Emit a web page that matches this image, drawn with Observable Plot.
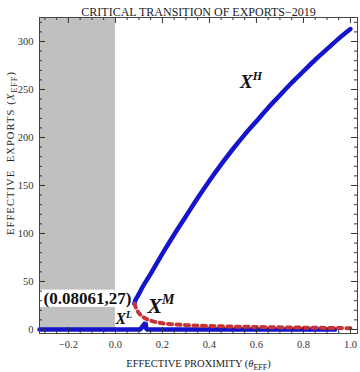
<!DOCTYPE html>
<html><head><meta charset="utf-8">
<script src="https://cdn.jsdelivr.net/npm/d3@7"></script>
<script src="https://cdn.jsdelivr.net/npm/@observablehq/plot@0.6"></script>
<style>
body{margin:0;background:#fff;}
svg{font-family:"Liberation Serif","Times New Roman",serif;}
</style>
</head><body><div id="chart"></div>
<script>
// ---- content ----
const titleText = "CRITICAL TRANSITION OF EXPORTS\u22122019";
const xLabelText = "EFFECTIVE PROXIMITY (θEFF)";
const yLabelText = "EFFECTIVE  EXPORTS (XEFF)";

const xMajorTicks = [-0.2, 0.0, 0.2, 0.4, 0.6, 0.8, 1.0];
const xMinorTicks = [-0.3, -0.25, -0.15, -0.1, -0.05, 0.05, 0.1, 0.15, 0.25, 0.3, 0.35, 0.45, 0.5, 0.55, 0.65, 0.7, 0.75, 0.85, 0.9, 0.95];
const yMajorTicks = [0, 50, 100, 150, 200, 250, 300];
const yMinorTicks = [10, 20, 30, 40, 60, 70, 80, 90, 110, 120, 130, 140, 160, 170, 180, 190, 210, 220, 230, 240, 260, 270, 280, 290, 310, 320];

// high branch X^H (stable)
const xH = [0.0806, 0.083, 0.087, 0.093, 0.1, 0.115, 0.15, 0.2, 0.25, 0.3, 0.35, 0.4, 0.45, 0.5, 0.55, 0.6, 0.65, 0.7, 0.75, 0.8, 0.85, 0.9, 0.95, 1.0];
const yH = [27, 29, 31.5, 34, 37, 44, 58, 79, 99, 118, 137, 155, 172, 188, 203, 217, 231, 244, 257, 269, 281, 292, 303, 313];
// middle branch X^M (unstable)
const xM = [0.0806, 0.09, 0.1, 0.11, 0.12, 0.14, 0.16, 0.2, 0.25, 0.3, 0.4, 0.5, 0.6, 0.7, 0.8, 0.9, 1.0];
const yM = [27, 21, 17, 14.5, 12.5, 10, 8.5, 6.5, 5.3, 4.5, 3.6, 3.0, 2.6, 2.2, 1.9, 1.6, 1.3];
// low branch X^L (stable)
const xL = [-0.323, 0.105, 0.128, 0.132, 0.935];
const yL = [0, 0, 7, 0, 0];

// shaded region and point label
const shadeX = [-0.323, 0.0];
const shadeY = [0, 325];
const labelBoxY = [23, 41];
const bifurcation = {x: 0.08061, y: 27, text: "(0.08061,27)"};
const branchLabels = [
  {key: "XH", x: 0.53, y: 258, size: 19},
  {key: "XL", x: 0.0, y: 11.5, size: 16},
  {key: "XM", x: 0.136, y: 25, size: 22}
];

// ---- build ----
const W = 360, H = 372, mt = 17, mb = 39, ml = 39, mr = 3;
const plotW = W - ml - mr, plotH = H - mt - mb;
const blue = "#1414cc", red = "#c83434", ink = "#333";

const H_ = xH.map((x, i) => ({x, y: yH[i]}));
const M_ = xM.map((x, i) => ({x, y: yM[i]}));
const L_ = xL.map((x, i) => ({x, y: yL[i]}));

const chart = Plot.plot({
  width: W, height: H,
  marginTop: mt, marginBottom: mb, marginLeft: ml, marginRight: mr,
  x: {domain: [-0.323, 1.03], axis: null},
  y: {domain: [-4.2, 325], axis: null},
  style: {fontFamily: "Liberation Serif, serif", fontSize: "10.5px", background: "white", color: ink},
  marks: [
    Plot.rect([{x1: shadeX[0], x2: shadeX[1], y1: shadeY[0], y2: shadeY[1]}], {x1: "x1", x2: "x2", y1: "y1", y2: "y2", fill: "#c0c0c0"}),
    Plot.rect([{x1: shadeX[0], x2: shadeX[1], y1: labelBoxY[0], y2: labelBoxY[1]}], {x1: "x1", x2: "x2", y1: "y1", y2: "y2", fill: "white"}),
    Plot.line(L_, {x: "x", y: "y", stroke: blue, strokeWidth: 4.5, strokeLinejoin: "miter"}),
    Plot.line(H_, {x: "x", y: "y", stroke: blue, strokeWidth: 4.5, curve: "monotone-x"}),
    Plot.line(M_, {x: "x", y: "y", stroke: red, strokeWidth: 4, strokeDasharray: "4,4.5", curve: "monotone-x"}),
    // ticks (inward, all four sides)
    Plot.tickX(xMajorTicks, {x: d => d, insetTop: plotH - 6, stroke: ink}),
    Plot.tickX(xMinorTicks, {x: d => d, insetTop: plotH - 3, stroke: ink}),
    Plot.tickX(xMajorTicks, {x: d => d, insetBottom: plotH - 6, stroke: ink}),
    Plot.tickX(xMinorTicks, {x: d => d, insetBottom: plotH - 3, stroke: ink}),
    Plot.tickY(yMajorTicks, {y: d => d, insetRight: plotW - 6, stroke: ink}),
    Plot.tickY(yMinorTicks, {y: d => d, insetRight: plotW - 3, stroke: ink}),
    Plot.tickY(yMajorTicks, {y: d => d, insetLeft: plotW - 6, stroke: ink}),
    Plot.tickY(yMinorTicks, {y: d => d, insetLeft: plotW - 3, stroke: ink}),
    Plot.frame({stroke: "#444"}),
    Plot.axisX(xMajorTicks, {anchor: "bottom", tickSize: 0, tickPadding: 7, tickFormat: d3.format(".1f"), fontSize: 10.5}),
    Plot.axisY(yMajorTicks, {anchor: "left", tickSize: 0, tickPadding: 6, tickFormat: d => String(d), fontSize: 10.5}),
    // titles
    Plot.text([titleText], {text: d => d, frameAnchor: "top", dy: -10, fontSize: 12, fill: "#222"}),
    Plot.text([xLabelText], {text: d => d, frameAnchor: "bottom", dy: 33, fontSize: 10.5, fill: "#222"}),
    // annotations
    Plot.text([bifurcation], {x: "x", y: "y", text: "text", textAnchor: "end", dx: -3, dy: -5, fontSize: 17, fontWeight: "bold", fill: "#111"}),
    Plot.text(branchLabels, {x: "x", y: "y", text: "key", textAnchor: "start", fontSize: "size", fontWeight: "bold", fill: "#111"})
  ]
});
document.getElementById("chart").appendChild(chart);

// rich text (italic, super/subscripts)
function rich(plain, html) {
  chart.querySelectorAll("text").forEach(t => { if (t.textContent === plain) t.innerHTML = html; });
}
rich(xLabelText, 'EFFECTIVE PROXIMITY (<tspan font-style="italic">θ</tspan><tspan dy="3" font-size="8">EFF</tspan><tspan dy="-3">)</tspan>');
const sup = {XH: "H", XL: "L", XM: "M"};
for (const b of branchLabels) {
  const s = Math.round(b.size * 0.62);
  rich(b.key, `<tspan font-style="italic">X</tspan><tspan font-style="italic" font-size="${s}" dy="${-Math.round(b.size * 0.4)}">${sup[b.key]}</tspan>`);
}
// rotated y-axis label
const yScale = chart.scale("y");
const yMid = (yScale.range[0] + yScale.range[1]) / 2 - 22;
d3.select(chart).append("text")
  .attr("transform", `translate(11,${yMid}) rotate(-90)`)
  .attr("text-anchor", "middle")
  .attr("dy", "0.32em")
  .attr("font-size", 10.5)
  .attr("letter-spacing", 1.1)
  .attr("fill", "#222")
  .html('EFFECTIVE&#160;&#160;EXPORTS (<tspan font-style="italic">X</tspan><tspan dy="3" font-size="8">EFF</tspan><tspan dy="-3">)</tspan>');
</script>
</body></html>
